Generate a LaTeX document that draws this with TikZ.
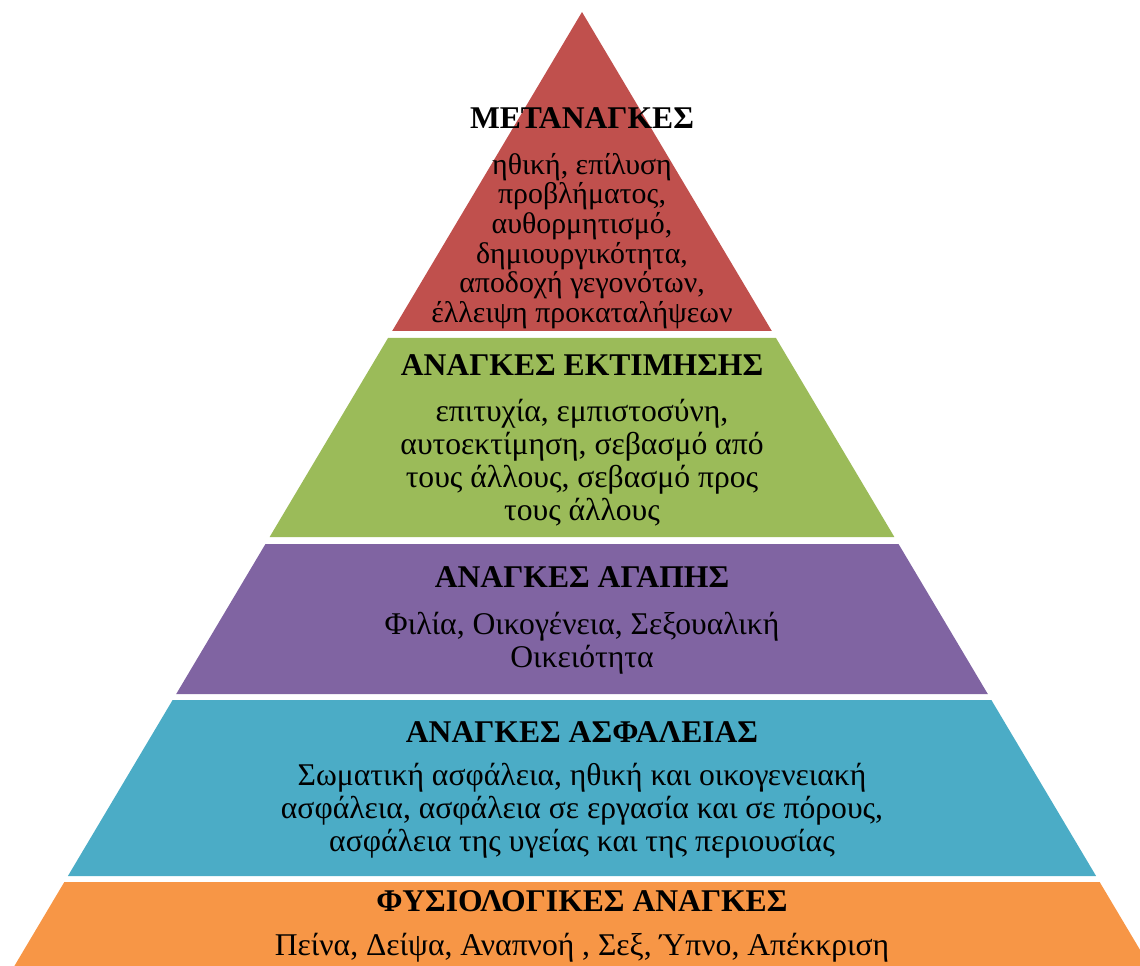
\documentclass[tikz,border=0pt]{standalone}
\usepackage{fontspec}
\setmainfont{Liberation Serif}
\definecolor{lvred}{HTML}{C0504D}
\definecolor{lvgreen}{HTML}{9BBB59}
\definecolor{lvpurple}{HTML}{8064A2}
\definecolor{lvblue}{HTML}{4BACC6}
\definecolor{lvorange}{HTML}{F79646}

\begin{document}
\begin{tikzpicture}[x=0.02cm,y=-0.02cm,
  head/.style={font=\fontsize{18}{18}\selectfont\bfseries,inner sep=0pt},
  body/.style={font=\fontsize{18}{18.8}\selectfont,align=center,inner sep=0pt},
  topbody/.style={body,font=\fontsize{17}{16.9}\selectfont}]
  \useasboundingbox (0,0) rectangle (1140,966);
  \clip (0,0) rectangle (1140,966);
  % pyramid layers: apex at (582,12), sides with slope 0.595
  \foreach \top/\bot/\col in {12/331/lvred,338/537/lvgreen,544/694/lvpurple,700/876/lvblue,882/990/lvorange}{
    \fill[\col] ({582-0.595*(\top-12)},\top) -- ({582+0.595*(\top-12)},\top)
      -- ({582+0.595*(\bot-12)},\bot) -- ({582-0.595*(\bot-12)},\bot) -- cycle;
  }
  % texts
  \node[head] (metaT) at (582,118) {ΜΕΤΑΝΑΓΚΕΣ};
  \node[topbody] (metaB) at (582,241) {ηθική, επίλυση\\προβλήματος,\\αυθορμητισμό,\\δημιουργικότητα,\\αποδοχή γεγονότων,\\έλλειψη προκαταλήψεων};
  \node[head] (estT) at (582,365) {ΑΝΑΓΚΕΣ ΕΚΤΙΜΗΣΗΣ};
  \node[body] (estB) at (582,463) {επιτυχία, εμπιστοσύνη,\\αυτοεκτίμηση, σεβασμό από\\τους άλλους, σεβασμό προς\\τους άλλους};
  \node[head] (loveT) at (582,577) {ΑΝΑΓΚΕΣ ΑΓΑΠΗΣ};
  \node[body] (loveB) at (582,643) {Φιλία, Οικογένεια, Σεξουαλική\\Οικειότητα};
  \node[head] (safeT) at (582,732) {ΑΝΑΓΚΕΣ ΑΣΦΑΛΕΙΑΣ};
  \node[body] (safeB) at (582,811) {Σωματική ασφάλεια, ηθική και οικογενειακή\\ασφάλεια, ασφάλεια σε εργασία και σε πόρους,\\ασφάλεια της υγείας και της περιουσίας};
  \node[head] (physT) at (582,901) {ΦΥΣΙΟΛΟΓΙΚΕΣ ΑΝΑΓΚΕΣ};
  \node[body] (physB) at (582,948) {Πείνα, Δείψα, Αναπνοή , Σεξ, Ύπνο, Απέκκριση};
\end{tikzpicture}
\end{document}
